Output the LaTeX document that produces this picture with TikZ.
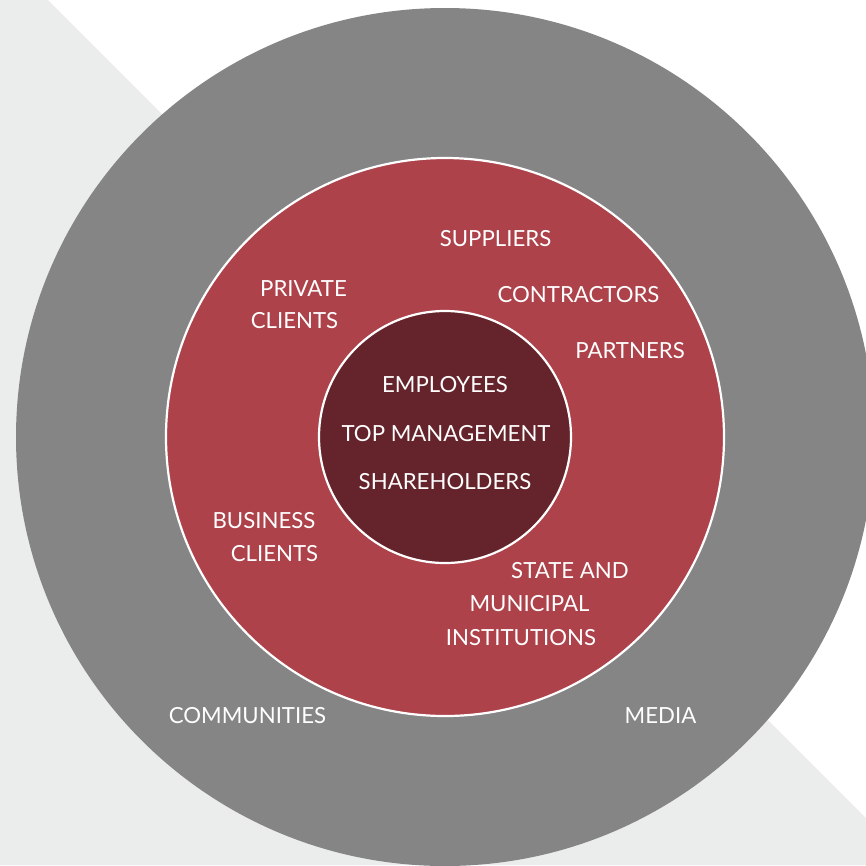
\documentclass[tikz,border=0pt]{standalone}
\usepackage{fontspec}
\setmainfont{Lato}
\definecolor{bgpale}{HTML}{EBEDEC}
\definecolor{ringgray}{HTML}{858585}
\definecolor{ringred}{HTML}{AD424A}
\definecolor{coredark}{HTML}{65242B}
\tikzset{
  lbl/.style={text=white, font=\fontsize{22.2}{26}\selectfont, inner sep=0pt, anchor=center},
  ring/.style={draw=white, line width=2.2pt}
}
\begin{document}
\begin{tikzpicture}[x=1pt, y=-1pt]
  \useasboundingbox (0,0) rectangle (866,865);
  % backdrop: white with a pale diagonal field
  \fill[white] (0,0) rectangle (866,865);
  \fill[bgpale] (48,0) -- (866,818) -- (866,865) -- (0,865) -- (0,0) -- cycle;
  % concentric circles
  \fill[ringgray] (445,437) circle[radius=429];
  \fill[ringred, ring] (445,437) circle[radius=279];
  \fill[coredark, ring] (445,437) circle[radius=126];
  % inner circle
  \node[lbl] (emp) at (445,385) {EMPLOYEES};
  \node[lbl] (top) at (446,434) {TOP MANAGEMENT};
  \node[lbl] (sha) at (445,482) {SHAREHOLDERS};
  % middle ring
  \node[lbl] (sup) at (495.5,239) {SUPPLIERS};
  \node[lbl] (pri1) at (303.5,289) {PRIVATE};
  \node[lbl] (pri2) at (294.5,321) {CLIENTS};
  \node[lbl] (con) at (578.5,295) {CONTRACTORS};
  \node[lbl] (par) at (630,351) {PARTNERS};
  \node[lbl] (bus1) at (264,521) {BUSINESS};
  \node[lbl] (bus2) at (274.5,554) {CLIENTS};
  \node[lbl] (sta1) at (570,571) {STATE AND};
  \node[lbl] (sta2) at (529.5,604) {MUNICIPAL};
  \node[lbl] (sta3) at (521,638) {INSTITUTIONS};
  % outer ring
  \node[lbl] (com) at (247.5,716) {COMMUNITIES};
  \node[lbl] (med) at (660.5,716) {MEDIA};
\end{tikzpicture}
\end{document}
